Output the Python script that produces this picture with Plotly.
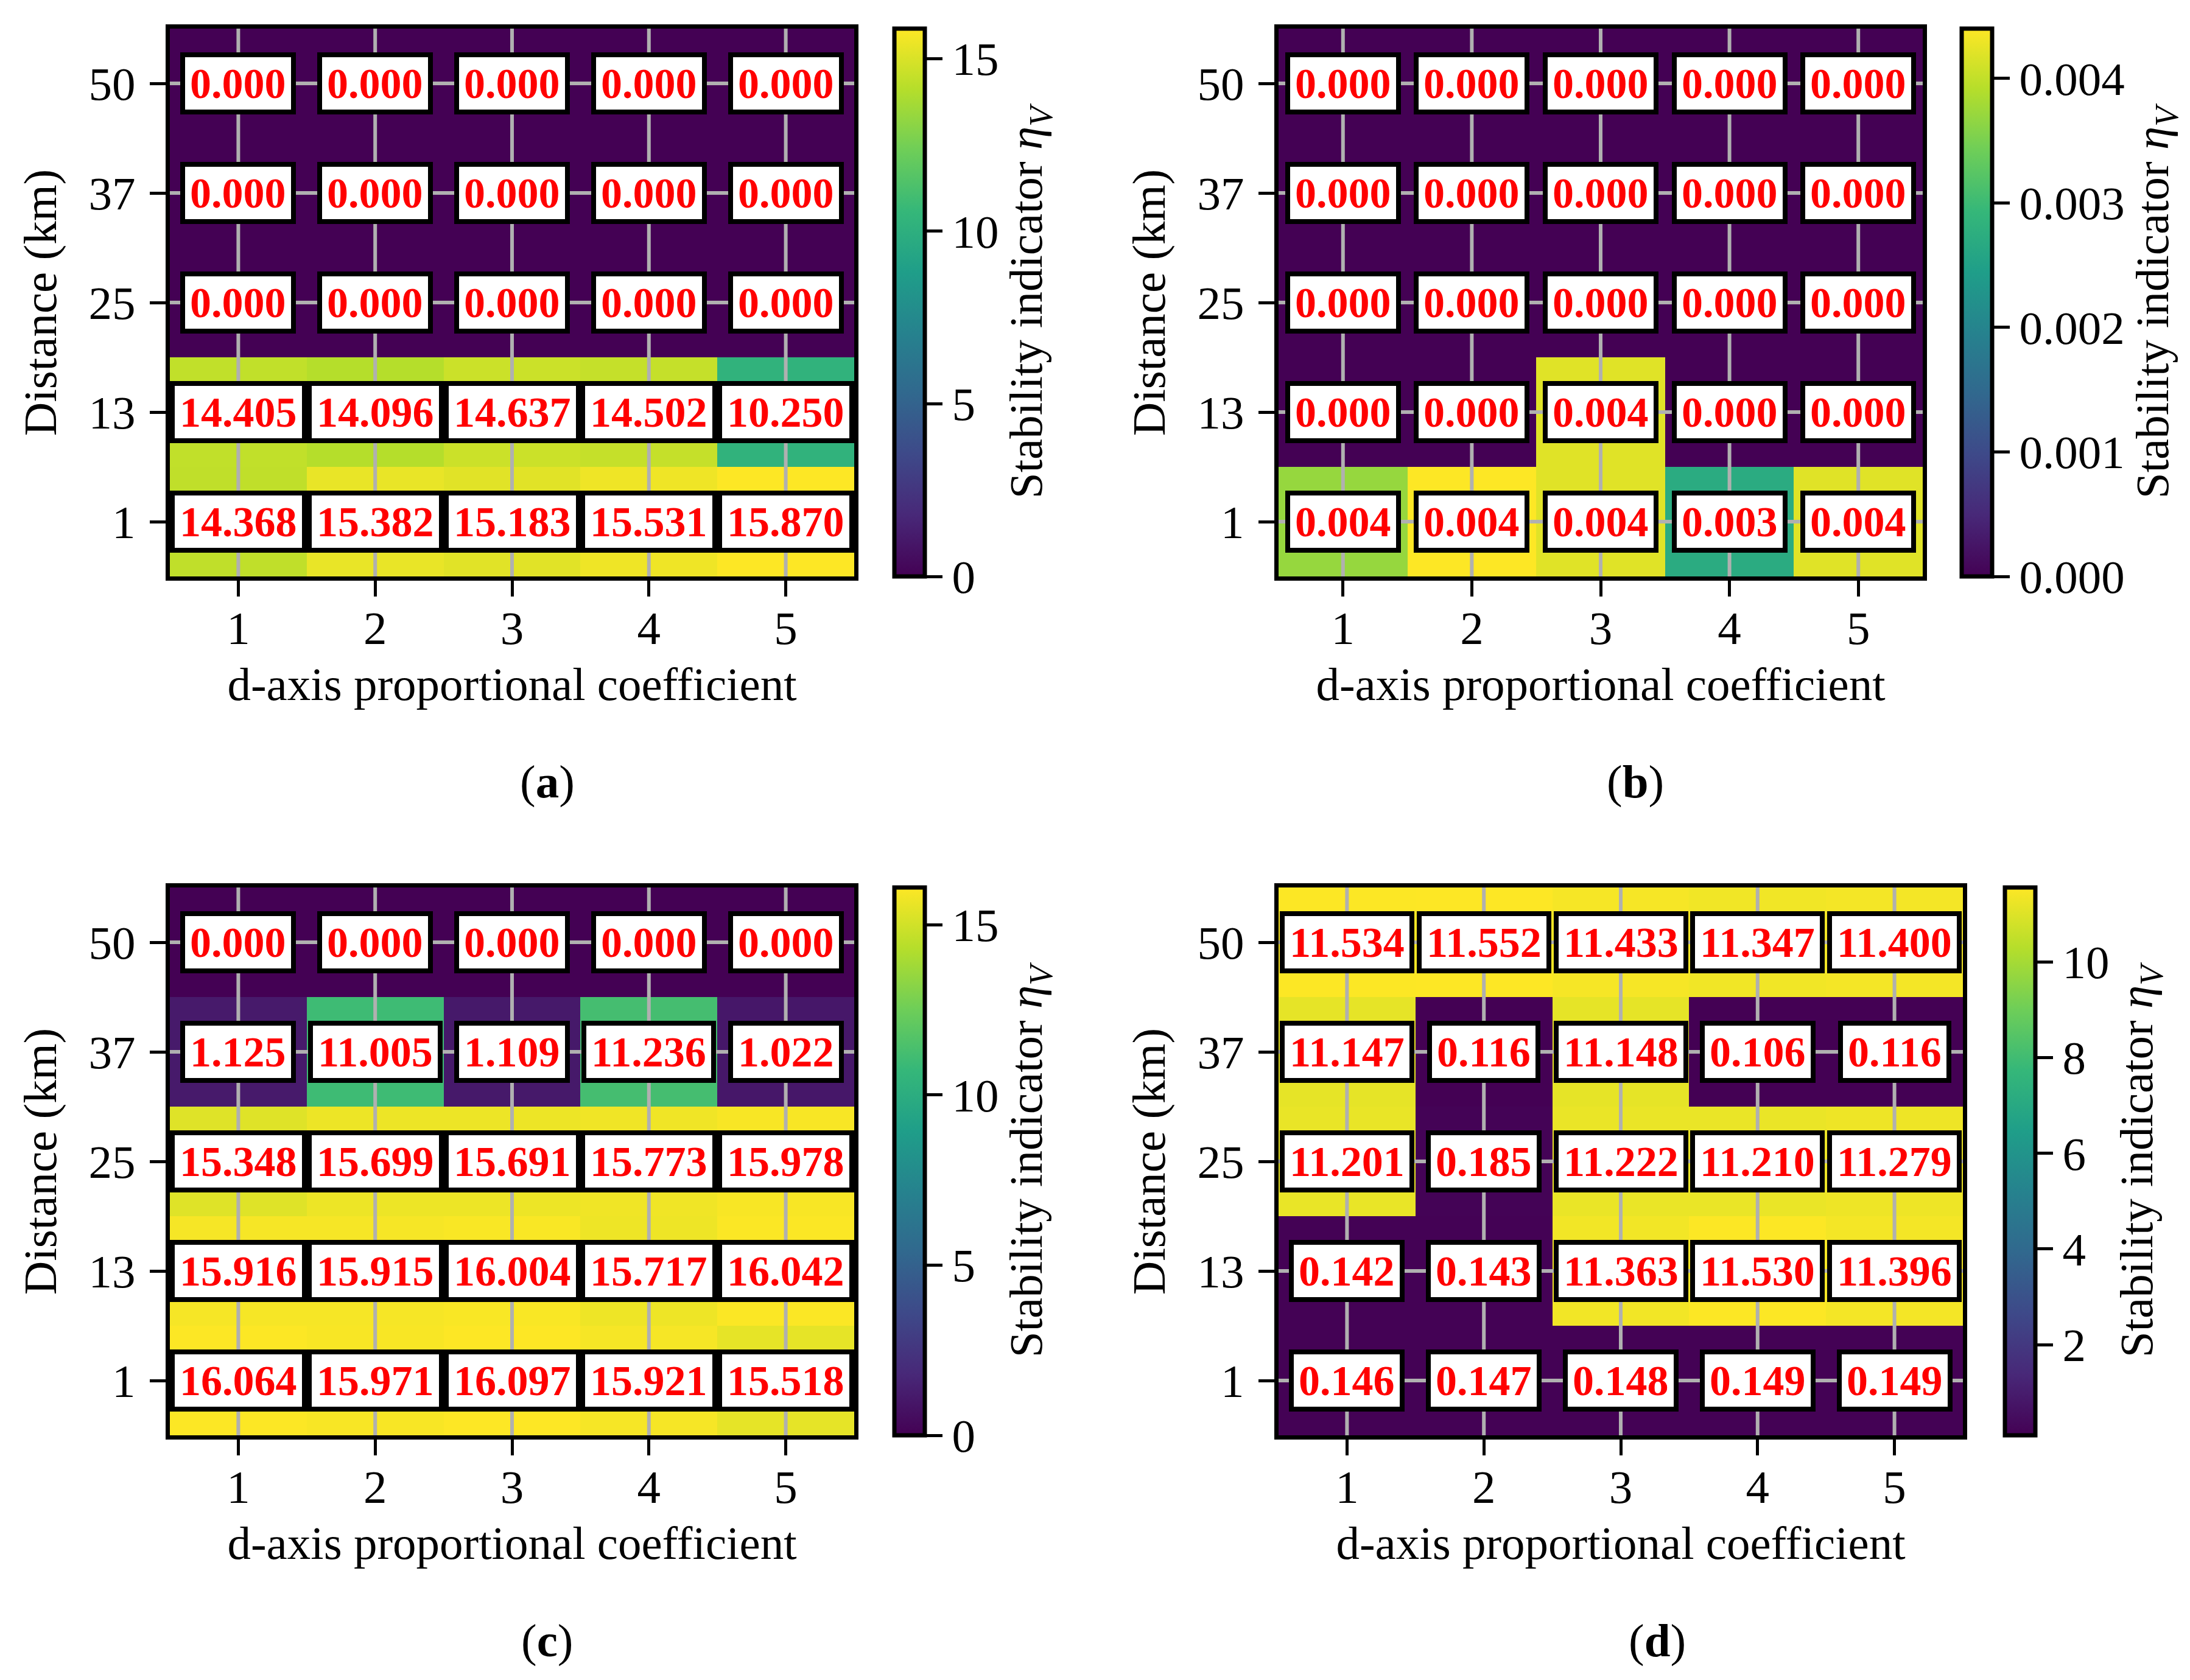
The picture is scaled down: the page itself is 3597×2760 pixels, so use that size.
import plotly.graph_objects as go

# heatmap data, rows ordered from 1 km (bottom) up to 50 km (top)
coeffs = [1, 2, 3, 4, 5]
distances = [1, 13, 25, 37, 50]

eta_a = [
    [14.368, 15.382, 15.183, 15.531, 15.870],
    [14.405, 14.096, 14.637, 14.502, 10.250],
    [0.000, 0.000, 0.000, 0.000, 0.000],
    [0.000, 0.000, 0.000, 0.000, 0.000],
    [0.000, 0.000, 0.000, 0.000, 0.000],
]
eta_b = [
    [0.0037, 0.0044, 0.0042, 0.0027, 0.0042],
    [0.0000, 0.0000, 0.0042, 0.0000, 0.0000],
    [0.0000, 0.0000, 0.0000, 0.0000, 0.0000],
    [0.0000, 0.0000, 0.0000, 0.0000, 0.0000],
    [0.0000, 0.0000, 0.0000, 0.0000, 0.0000],
]
eta_c = [
    [16.064, 15.971, 16.097, 15.921, 15.518],
    [15.916, 15.915, 16.004, 15.717, 16.042],
    [15.348, 15.699, 15.691, 15.773, 15.978],
    [1.125, 11.005, 1.109, 11.236, 1.022],
    [0.000, 0.000, 0.000, 0.000, 0.000],
]
eta_d = [
    [0.146, 0.147, 0.148, 0.149, 0.149],
    [0.142, 0.143, 11.363, 11.530, 11.396],
    [11.201, 0.185, 11.222, 11.210, 11.279],
    [11.147, 0.116, 11.148, 0.106, 0.116],
    [11.534, 11.552, 11.433, 11.347, 11.400],
]

W, H = 3597, 2760
FONT = "Liberation Serif"
FS = 77

# pixel boxes of each panel: heatmap x, heatmap y, colorbar left
panels = [
    dict(z=eta_a, tag="a", px=(271, 1395), py=(39, 939), cb=1461, dtick=5, fmt="d"),
    dict(z=eta_b, tag="b", px=(2092, 3150), py=(39, 939), cb=3214, dtick=0.001, fmt=".3f"),
    dict(z=eta_c, tag="c", px=(271, 1395), py=(1450, 2350), cb=1461, dtick=5, fmt="d"),
    dict(z=eta_d, tag="d", px=(2092, 3216), py=(1450, 2350), cb=3285, dtick=2, fmt="d"),
]

fig = go.Figure()
annotations = []
shapes = []
layout = {}
txt = dict(family=FONT, size=FS, color="black")

for i, p in enumerate(panels):
    sfx = "" if i == 0 else str(i + 1)
    xr, yr = "x" + sfx, "y" + sfx
    x0, x1 = p["px"][0] / W, p["px"][1] / W
    y0, y1 = 1 - p["py"][1] / H, 1 - p["py"][0] / H
    ymid = (y0 + y1) / 2

    fig.add_trace(go.Heatmap(
        x=coeffs, y=list(range(len(distances))), z=p["z"],
        colorscale="Viridis", xaxis=xr, yaxis=yr, hoverinfo="skip",
        colorbar=dict(
            x=p["cb"] / W, xanchor="left", y=ymid, yanchor="middle",
            len=p["py"][1] - p["py"][0], lenmode="pixels",
            thickness=50, thicknessmode="pixels", xpad=0, ypad=0,
            outlinewidth=7, outlinecolor="black",
            ticks="outside", ticklen=26, tickwidth=5, tickcolor="black",
            dtick=p["dtick"], tickformat=p["fmt"], tickfont=txt,
            title=dict(text="Stability indicator <i>η<sub>V</sub></i>", side="right", font=txt),
        ),
    ))

    axis_common = dict(
        showline=True, linecolor="black", linewidth=7, mirror=True,
        ticks="outside", ticklen=26, tickwidth=5, tickcolor="black",
        showgrid=False, zeroline=False, tickfont=txt,
    )
    layout["xaxis" + sfx] = dict(axis_common, domain=[x0, x1], anchor=yr,
                                 range=[0.5, 5.5], tickvals=coeffs, ticklabelstandoff=-14,
                                 title=dict(text="d-axis proportional coefficient", font=txt, standoff=24))
    layout["yaxis" + sfx] = dict(axis_common, domain=[y0, y1], anchor=xr,
                                 range=[-0.5, len(distances) - 0.5],
                                 tickvals=list(range(len(distances))),
                                 ticktext=[str(d) for d in distances], ticklabelstandoff=8,
                                 title=dict(text="Distance (km)", font=txt, standoff=30))

    # light grey grid drawn over the cells
    for c in coeffs:
        shapes.append(dict(type="line", xref=xr, yref=yr + " domain", x0=c, x1=c, y0=0, y1=1,
                           line=dict(color="#b0b0b0", width=6), layer="above"))
    for r in range(len(distances)):
        shapes.append(dict(type="line", xref=xr + " domain", yref=yr, x0=0, x1=1, y0=r, y1=r,
                           line=dict(color="#b0b0b0", width=6), layer="above"))

    # value labels
    for r, row in enumerate(p["z"]):
        for c, v in zip(coeffs, row):
            annotations.append(dict(
                x=c, y=r, xref=xr, yref=yr, showarrow=False,
                xanchor="center", yanchor="middle", valign="middle",
                text="%.3f" % v, height=70,
                font=dict(family=FONT, size=70, color="red", weight="bold"),
                bgcolor="white", bordercolor="black", borderwidth=8, borderpad=8,
            ))

    # panel tag
    annotations.append(dict(x=(p["px"][0] + p["cb"] + 50) / 2 / W, y=1 - (p["py"][1] + 337) / H,
                            xref="paper", yref="paper", text="(<b>%s</b>)" % p["tag"], showarrow=False,
                            font=txt, xanchor="center", yanchor="middle"))

fig.update_layout(
    width=W, height=H, margin=dict(l=0, r=0, t=0, b=0),
    paper_bgcolor="white", plot_bgcolor="white",
    annotations=annotations, shapes=shapes, showlegend=False,
    **layout
)
fig.write_html("out.html")
